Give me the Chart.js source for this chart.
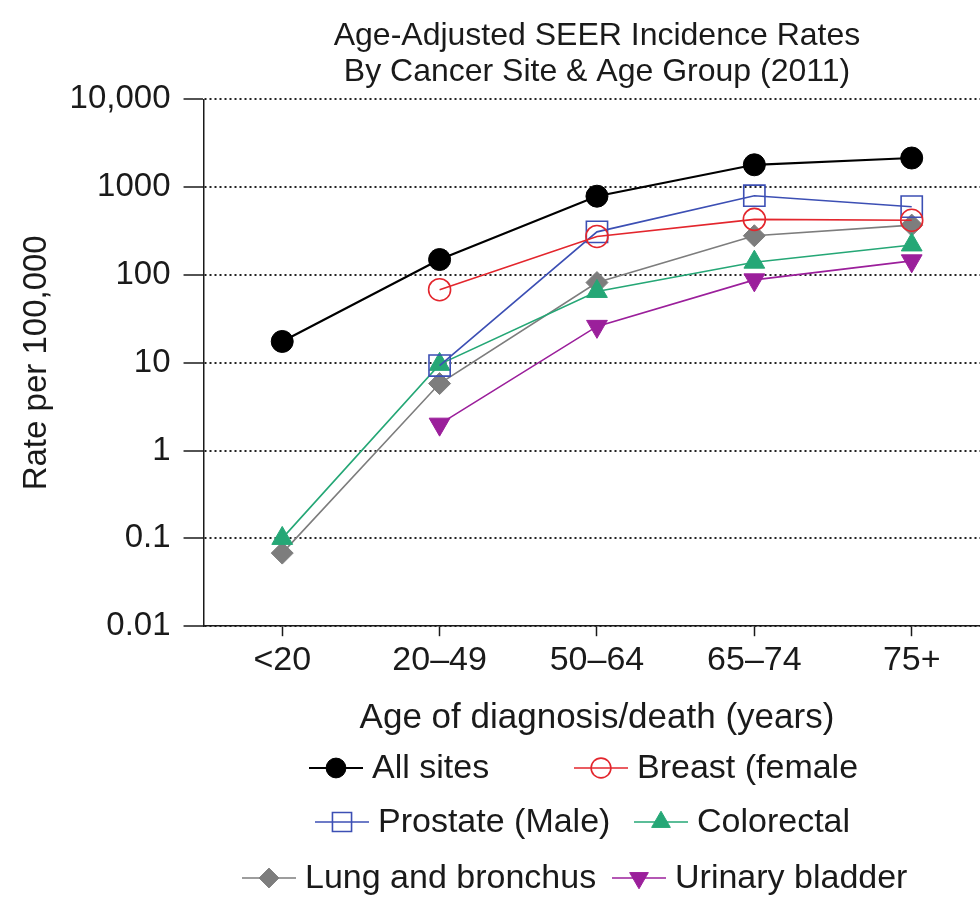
<!DOCTYPE html>
<html>
<head>
<meta charset="utf-8">
<script src="https://cdn.jsdelivr.net/npm/chart.js@4"></script>
<style>
  html, body { margin: 0; padding: 0; background: #fff; overflow: hidden; }
  #wrap { width: 1007px; height: 899px; }
</style>
</head>
<body>
<div id="wrap"><canvas id="chart" width="1007" height="899"></canvas></div>
<script>
// ── DATA ──
const ageGroups   = ['<20', '20\u201349', '50\u201364', '65\u201374', '75+'];
const allSites    = [17.5, 150, 790, 1800, 2150];
const breast      = [null, 68, 275, 430, 420];
const prostate    = [null, 9.3, 310, 800, 600];
const colorectal  = [0.1, 9.6, 65, 140, 220];
const lung        = [0.068, 5.8, 82, 280, 370];
const bladder     = [null, 2.0, 26, 88, 145];
const yTickValues = [0.01, 0.1, 1, 10, 100, 1000, 10000];
const yTickLabels = ['0.01', '0.1', '1', '10', '100', '1000', '10,000'];

const FONT = "'Liberation Sans', Arial, Helvetica, sans-serif";
const INK  = '#1a1a1a';

// ── SERIES STYLE ──
function series(label, data, color, pointStyle, filled, extra) {
  return Object.assign({
    label,
    data,
    borderColor: color,
    backgroundColor: filled ? color : 'rgba(255,255,255,0)',
    pointBackgroundColor: filled ? color : 'rgba(255,255,255,0)',
    pointBorderColor: color,
    pointStyle,
    pointRadius: 11,
    pointBorderWidth: filled ? 1 : 1.6,
    borderWidth: 1.6,
    spanGaps: false,
    tension: 0,
  }, extra || {});
}

const datasets = [
  series('All sites',          allSites,   '#000000', 'circle',   true,  { borderWidth: 2.2 }),
  series('Breast (female',     breast,     '#e3262d', 'circle',   false),
  series('Prostate (Male)',    prostate,   '#3c4fb4', 'rect',     false, { pointRadius: 15 }),
  series('Colorectal',         colorectal, '#25a776', 'triangle', true,  { pointRadius: 12 }),
  series('Lung and bronchus',  lung,       '#7d7d7d', 'rectRot',  true),
  series('Urinary bladder',    bladder,    '#9b1f9b', 'triangle', true,  { pointRadius: 12, pointRotation: 180 }),
];

// legend placement: row y and symbol centre x for each entry
const LEGEND_ROWS = [768, 822, 878];
const LEGEND_POS  = [[0, 336], [0, 601], [1, 342], [1, 661], [2, 269], [2, 639]];

// ── LEGEND (line + marker, drawn on canvas) ──
const lineLegend = {
  id: 'lineLegend',
  afterDraw(chart) {
    const ctx = chart.ctx;
    ctx.save();
    ctx.font = '34px ' + FONT;
    ctx.textBaseline = 'middle';
    ctx.textAlign = 'left';
    chart.data.datasets.forEach((ds, i) => {
      const [row, cx] = LEGEND_POS[i];
      const cy = LEGEND_ROWS[row];
      ctx.strokeStyle = ds.borderColor;
      ctx.lineWidth = ds.borderWidth;
      ctx.beginPath();
      ctx.moveTo(cx - 27, cy);
      ctx.lineTo(cx + 27, cy);
      ctx.stroke();
      ctx.fillStyle = ds.pointBackgroundColor;
      ctx.lineWidth = ds.pointBorderWidth;
      Chart.helpers.drawPoint(ctx, {
        pointStyle: ds.pointStyle,
        radius: ds.pointRadius * 0.9,
        rotation: ds.pointRotation || 0,
        borderWidth: ds.pointBorderWidth,
      }, cx, cy);
      ctx.fillStyle = INK;
      ctx.fillText(ds.label, cx + 36, cy + 1);
    });
    ctx.restore();
  },
};

new Chart(document.getElementById('chart').getContext('2d'), {
  type: 'line',
  data: { labels: ageGroups, datasets },
  plugins: [lineLegend],
  options: {
    responsive: false,
    devicePixelRatio: 1,
    animation: false,
    layout: { padding: { left: 14, right: 4, top: 0, bottom: 160 } },
    plugins: {
      legend: { display: false },
      tooltip: { enabled: false },
      title: {
        display: true,
        fullSize: false,
        text: ['Age-Adjusted SEER Incidence Rates', 'By Cancer Site & Age Group (2011)'],
        color: INK,
        font: { family: FONT, size: 32, weight: 'normal', lineHeight: 1.1 },
        padding: { top: 19, bottom: 10 },
      },
    },
    scales: {
      x: {
        type: 'category',
        offset: true,
        grid: {
          drawOnChartArea: false,
          drawTicks: true,
          tickLength: 10,
          tickColor: INK,
          tickWidth: 1.5,
          offset: false,
        },
        border: { display: true, color: INK, width: 1.5 },
        ticks: { color: INK, font: { family: FONT, size: 34 }, padding: 4, maxRotation: 0 },
        title: {
          display: true,
          text: 'Age of diagnosis/death (years)',
          color: INK,
          font: { family: FONT, size: 35 },
          padding: { top: 12, bottom: 0 },
        },
      },
      y: {
        type: 'logarithmic',
        min: 0.01,
        max: 10000,
        afterBuildTicks: scale => {
          scale.ticks = yTickValues.map(v => ({ value: v }));
        },
        grid: {
          color: '#222',
          lineWidth: 2,
          drawTicks: true,
          tickLength: 20,
          tickColor: INK,
          tickWidth: 1.5,
          tickBorderDash: [],
        },
        border: { display: true, color: INK, width: 1.5, dash: [2, 3] },
        ticks: {
          color: INK,
          font: { family: FONT, size: 33 },
          padding: 13,
          autoSkip: false,
          callback: (v) => {
            const i = yTickValues.findIndex(t => Math.abs(t - v) / t < 1e-6);
            return i >= 0 ? yTickLabels[i] : '';
          },
        },
        title: {
          display: true,
          text: 'Rate per 100,000',
          color: INK,
          font: { family: FONT, size: 33 },
          padding: { top: 3, bottom: 0 },
        },
      },
    },
  },
});
</script>
</body>
</html>
